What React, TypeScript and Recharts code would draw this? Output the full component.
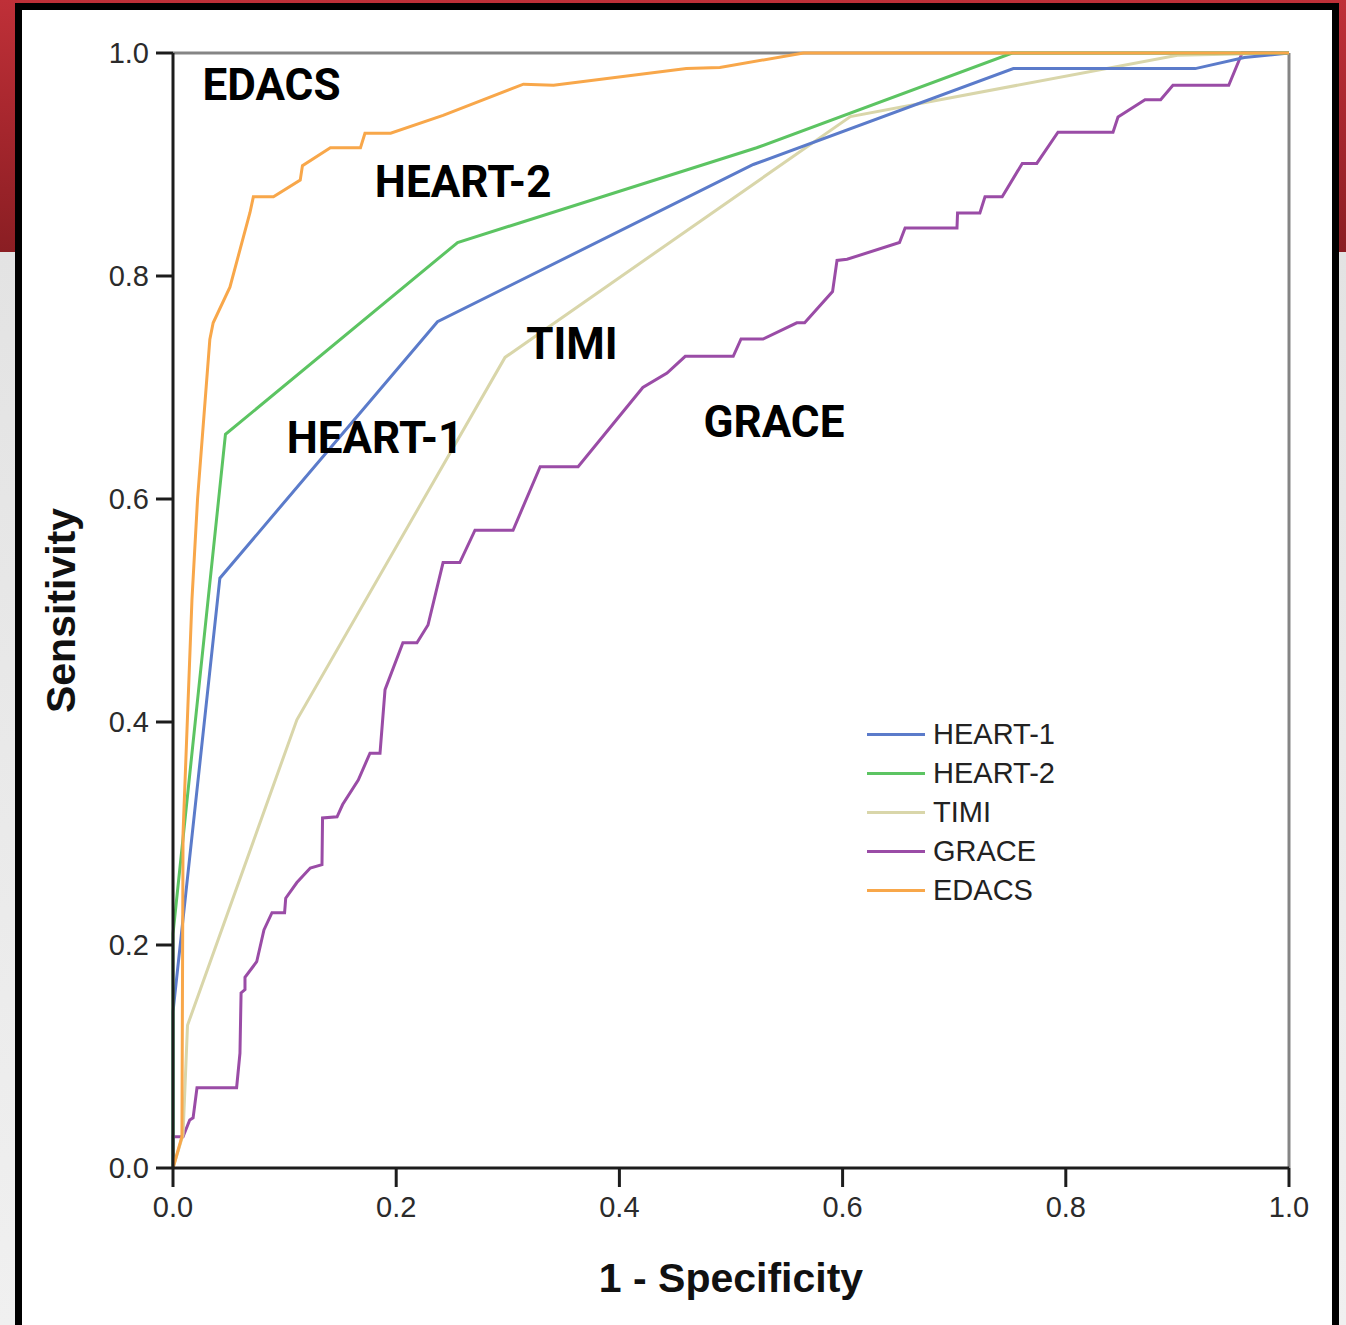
import { LineChart, Line, XAxis, YAxis, ReferenceLine, ReferenceDot, Legend } from 'recharts';

// ROC points: [1 - specificity, sensitivity]
const heart1: [number, number][] = [
  [0, 0], [0, 0.14], [0.042, 0.529], [0.237, 0.759], [0.52, 0.9],
  [0.753, 0.986], [0.916, 0.986], [0.96, 0.996], [1, 1],
];

const heart2: [number, number][] = [
  [0, 0], [0, 0.21], [0.047, 0.658], [0.255, 0.83], [0.523, 0.915],
  [0.752, 1], [1, 1],
];

const timi: [number, number][] = [
  [0, 0], [0.009, 0.03], [0.013, 0.128], [0.111, 0.402], [0.2975, 0.727],
  [0.607, 0.943], [0.9, 0.998], [1, 1],
];

const grace: [number, number][] = [
  [0, 0], [0, 0.028], [0.009, 0.028], [0.015, 0.043], [0.018, 0.045],
  [0.0215, 0.072], [0.057, 0.072], [0.06, 0.103], [0.061, 0.157], [0.0645, 0.16],
  [0.0645, 0.171], [0.075, 0.185], [0.0815, 0.2135], [0.0887, 0.229], [0.1, 0.229],
  [0.101, 0.242], [0.111, 0.256], [0.123, 0.269], [0.1335, 0.272], [0.134, 0.314],
  [0.147, 0.315], [0.152, 0.326], [0.166, 0.348], [0.1765, 0.372], [0.1855, 0.372],
  [0.19, 0.429], [0.206, 0.471], [0.2186, 0.471], [0.2285, 0.487], [0.242, 0.543],
  [0.257, 0.543], [0.2706, 0.572], [0.3047, 0.572], [0.329, 0.629], [0.363, 0.629],
  [0.421, 0.7], [0.4427, 0.713], [0.459, 0.728], [0.502, 0.728], [0.509, 0.7435],
  [0.5287, 0.7435], [0.559, 0.758], [0.566, 0.758], [0.591, 0.786], [0.595, 0.814],
  [0.604, 0.815], [0.651, 0.83], [0.656, 0.843], [0.7025, 0.843], [0.703, 0.8565],
  [0.723, 0.8565], [0.7276, 0.871], [0.743, 0.871], [0.761, 0.901], [0.774, 0.901],
  [0.793, 0.929], [0.8423, 0.929], [0.8468, 0.9426], [0.871, 0.958], [0.885, 0.958],
  [0.896, 0.971], [0.946, 0.971], [0.958, 1], [1, 1],
];

const edacs: [number, number][] = [
  [0, 0], [0.008, 0.028], [0.009, 0.3], [0.017, 0.51], [0.022, 0.6],
  [0.033, 0.743], [0.036, 0.758], [0.051, 0.79], [0.069, 0.857], [0.072, 0.871],
  [0.09, 0.871], [0.114, 0.886], [0.116, 0.899], [0.141, 0.915], [0.168, 0.915],
  [0.172, 0.928], [0.195, 0.928], [0.242, 0.944], [0.314, 0.972], [0.341, 0.971],
  [0.46, 0.986], [0.49, 0.987], [0.565, 1], [1, 1],
];

const TICKS = [0, 0.2, 0.4, 0.6, 0.8, 1.0];
const LEGEND_ORDER = ['HEART-1', 'HEART-2', 'TIMI', 'GRACE', 'EDACS'];

const COLORS: Record<string, string> = {
  'HEART-1': '#5b7bca',
  'HEART-2': '#5cc462',
  TIMI: '#d9d6aa',
  GRACE: '#9a4ca6',
  EDACS: '#f8a74a',
};

// drawing order (bottom to top)
const SERIES = [
  { name: 'GRACE', points: grace },
  { name: 'TIMI', points: timi },
  { name: 'HEART-1', points: heart1 },
  { name: 'HEART-2', points: heart2 },
  { name: 'EDACS', points: edacs },
].map(s => ({ ...s, data: s.points.map(([x, y]) => ({ x, y })) }));

// in-plot labels, centred on these data coordinates
const ANNOTATIONS = [
  { text: 'EDACS', x: 0.0883, y: 0.9717 },
  { text: 'HEART-2', x: 0.26, y: 0.885 },
  { text: 'HEART-1', x: 0.181, y: 0.655 },
  { text: 'TIMI', x: 0.3575, y: 0.74 },
  { text: 'GRACE', x: 0.5385, y: 0.67 },
];

const FONT = '"Liberation Sans", Arial, sans-serif';
const LABEL_FONT = 'Roboto, sans-serif';

const renderLegend = () => (
  <div style={{ fontFamily: FONT, fontSize: 29, color: '#222' }}>
    {LEGEND_ORDER.map(name => (
      <div key={name} style={{ display: 'flex', alignItems: 'center', height: 39 }}>
        <div style={{ width: 58, height: 3, background: COLORS[name], marginRight: 8 }} />
        <span>{name}</span>
      </div>
    ))}
  </div>
);

const YTitle = (props: any) => {
  const { viewBox } = props;
  const cx = viewBox.x + viewBox.width - 98;
  const cy = viewBox.y + viewBox.height / 2;
  return (
    <text x={cx} y={cy} transform={`rotate(-90, ${cx}, ${cy})`} textAnchor="middle"
      fontFamily={FONT} fontWeight="bold" fontSize={41} fill="#111">
      Sensitivity
    </text>
  );
};

const XTitle = (props: any) => {
  const { viewBox } = props;
  return (
    <text x={viewBox.x + viewBox.width / 2} y={viewBox.y + 124} textAnchor="middle"
      fontFamily={FONT} fontWeight="bold" fontSize={41} fill="#111">
      1 - Specificity
    </text>
  );
};

export default function App() {
  const tickStyle = { fontSize: 29, fill: '#2b2b2b', fontFamily: FONT };
  return (
    <div style={{
      position: 'absolute', left: 0, top: 0, width: 1346, height: 1325, overflow: 'hidden',
      background: 'linear-gradient(180deg, #bf3038 0px, #a5262d 130px, #8a1e23 252px, #e3e3e3 252px, #f0f0f0 1325px)',
    }}>
      <div style={{
        position: 'absolute', left: 15, top: 3, width: 1324, height: 1345,
        border: '7px solid #000', background: '#fff', boxSizing: 'border-box',
      }} />
      <div style={{ position: 'absolute', left: 0, top: 0 }}>
        <LineChart width={1346} height={1325} margin={{ top: 53, right: 57, left: 113, bottom: 97 }}>
          <XAxis dataKey="x" type="number" domain={[0, 1]} ticks={TICKS} height={60}
            tickFormatter={(v: number) => v.toFixed(1)} tick={tickStyle}
            axisLine={{ stroke: '#1c1c1c', strokeWidth: 3 }}
            tickLine={{ stroke: '#1c1c1c', strokeWidth: 3 }}
            tickSize={19} tickMargin={9} label={XTitle} />
          <YAxis dataKey="y" type="number" domain={[0, 1]} ticks={TICKS} width={60}
            tickFormatter={(v: number) => v.toFixed(1)} tick={tickStyle}
            axisLine={{ stroke: '#1c1c1c', strokeWidth: 3 }}
            tickLine={{ stroke: '#1c1c1c', strokeWidth: 3 }}
            tickSize={17} tickMargin={7} label={YTitle} />
          <ReferenceLine y={1} stroke="#858585" strokeWidth={3} />
          <ReferenceLine x={1} stroke="#858585" strokeWidth={3} />
          {SERIES.map(s => (
            <Line key={s.name} data={s.data} dataKey="y" name={s.name} type="linear"
              stroke={COLORS[s.name]} strokeWidth={3} dot={false} activeDot={false}
              isAnimationActive={false} />
          ))}
          {ANNOTATIONS.map(a => (
            <ReferenceDot key={a.text} x={a.x} y={a.y} r={1} fill="none" stroke="none"
              label={{ value: a.text, position: 'center', fontSize: 44, fontWeight: 'bold',
                fill: '#000', fontFamily: LABEL_FONT }} />
          ))}
          <Legend layout="vertical" align="center" verticalAlign="middle" content={renderLegend}
            wrapperStyle={{ left: 867, top: 715, width: 260 }} />
        </LineChart>
      </div>
    </div>
  );
}
